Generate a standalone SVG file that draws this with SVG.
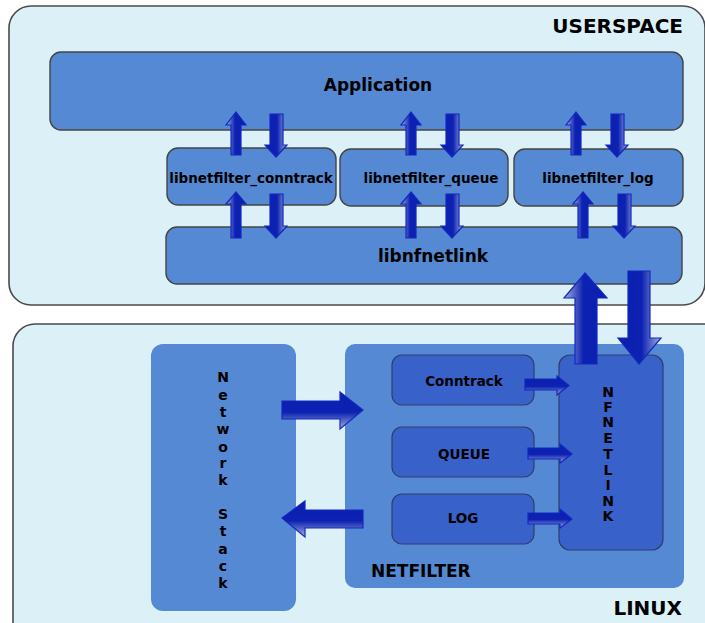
<svg xmlns="http://www.w3.org/2000/svg" width="705" height="623" viewBox="0 0 705 623">
<defs>
<linearGradient id="gL" x1="0" y1="0" x2="1" y2="0"><stop offset="0" stop-color="#a3aedc"/><stop offset="0.45" stop-color="#0d22b2"/><stop offset="1" stop-color="#0a1fae"/></linearGradient>
<linearGradient id="gR" x1="0" y1="0" x2="1" y2="0"><stop offset="0" stop-color="#0a1fae"/><stop offset="0.55" stop-color="#0d22b2"/><stop offset="1" stop-color="#a3aedc"/></linearGradient>
<linearGradient id="gB" x1="0" y1="0" x2="0" y2="1"><stop offset="0" stop-color="#0a1fae"/><stop offset="0.55" stop-color="#0d22b2"/><stop offset="1" stop-color="#a3aedc"/></linearGradient>
</defs>
<style>
.outer{fill:#dcf0f7;stroke:#4a4a4a;stroke-width:1.6}
.mid{fill:#5689d3;stroke:#444;stroke-width:1.4}
.midns{fill:#5689d3}
.dark{fill:#3862c9;stroke:#2c3e70;stroke-width:1.2}
.t{font-family:"DejaVu Sans",sans-serif;font-weight:bold;fill:#000;text-anchor:middle}
.big{font-size:20px;text-anchor:end}
.a{stroke:#1328c0;stroke-width:1.2;stroke-linejoin:miter}
</style>
<g id="userspace">
<rect class="outer" x="9" y="6" width="696" height="299" rx="22"/>
<text class="t big" x="683" y="33">USERSPACE</text>
</g>
<g id="linux">
<rect class="outer" x="13" y="324" width="715" height="320" rx="22"/>
<text class="t big" x="682" y="615">LINUX</text>
</g>
<g id="application">
<rect class="mid" x="50" y="52" width="633" height="78" rx="11"/>
<text class="t" x="378" y="91" font-size="17">Application</text>
</g>
<g id="libnetfilter_conntrack">
<rect class="mid" x="167" y="148" width="169" height="57" rx="11"/>
<text class="t" x="251" y="183" font-size="13.5">libnetfilter_conntrack</text>
</g>
<g id="libnetfilter_queue">
<rect class="mid" x="340" y="149" width="168" height="57" rx="11"/>
<text class="t" x="431" y="183" font-size="13.5">libnetfilter_queue</text>
</g>
<g id="libnetfilter_log">
<rect class="mid" x="514" y="149" width="169" height="57" rx="11"/>
<text class="t" x="598" y="183" font-size="13.5">libnetfilter_log</text>
</g>
<g id="libnfnetlink">
<rect class="mid" x="166" y="227" width="516" height="57" rx="11"/>
<text class="t" x="433" y="262" font-size="17">libnfnetlink</text>
</g>
<g id="network_stack">
<rect class="midns" x="151" y="344" width="145" height="267" rx="12"/>
<g class="t" font-size="14">
<text x="223" y="382">N</text><text x="223" y="400">e</text><text x="223" y="417">t</text><text x="223" y="434">w</text><text x="223" y="452">o</text><text x="223" y="468">r</text><text x="223" y="485">k</text>
<text x="223" y="519">S</text><text x="223" y="536">t</text><text x="223" y="554">a</text><text x="223" y="571">c</text><text x="223" y="588">k</text>
</g>
</g>
<g id="netfilter">
<rect class="midns" x="345" y="344" width="339" height="244" rx="10"/>
<text class="t" x="371" y="577" font-size="17" style="text-anchor:start">NETFILTER</text>
</g>
<g id="conntrack">
<rect class="dark" x="392" y="355" width="142" height="50" rx="10"/>
<text class="t" x="464" y="386" font-size="13.5">Conntrack</text>
</g>
<g id="queue">
<rect class="dark" x="392" y="427" width="142" height="50" rx="10"/>
<text class="t" x="464" y="459" font-size="13.5">QUEUE</text>
</g>
<g id="log">
<rect class="dark" x="392" y="494" width="142" height="50" rx="10"/>
<text class="t" x="463" y="523" font-size="13.5">LOG</text>
</g>
<g id="nfnetlink">
<rect class="dark" x="559" y="355" width="104" height="195" rx="11"/>
<g class="t" font-size="14">
<text x="608" y="397">N</text><text x="608" y="412">F</text><text x="608" y="427">N</text><text x="608" y="443">E</text><text x="608" y="459">T</text><text x="608" y="475">L</text><text x="608" y="490">I</text><text x="608" y="506">N</text><text x="608" y="521">K</text>
</g>
</g>
<g id="connectors">
<polygon class="a" fill="url(#gL)" points="236,112 246,125 241,125 241,155 231,155 231,125 226,125"/>
<polygon class="a" fill="url(#gR)" points="270,114 283,114 283,145 287,145 276,157 265,145 270,145"/>
<polygon class="a" fill="url(#gL)" points="411,112 421,125 416,125 416,155 406,155 406,125 401,125"/>
<polygon class="a" fill="url(#gR)" points="446,114 459,114 459,145 463,145 452,157 441,145 446,145"/>
<polygon class="a" fill="url(#gL)" points="576,112 586,125 581,125 581,155 571,155 571,125 566,125"/>
<polygon class="a" fill="url(#gR)" points="611,114 624,114 624,145 628,145 617,157 606,145 611,145"/>
<polygon class="a" fill="url(#gL)" points="236,192 246,204 241,204 241,238 231,238 231,204 226,204"/>
<polygon class="a" fill="url(#gR)" points="270,194 283,194 283,226 287,226 276,238 265,226 270,226"/>
<polygon class="a" fill="url(#gL)" points="411,192 421,204 416,204 416,238 406,238 406,204 401,204"/>
<polygon class="a" fill="url(#gR)" points="446,194 459,194 459,226 463,226 452,238 441,226 446,226"/>
<polygon class="a" fill="url(#gL)" points="583,192 593,204 588,204 588,238 578,238 578,204 573,204"/>
<polygon class="a" fill="url(#gR)" points="618,194 631,194 631,226 635,226 624,238 613,226 618,226"/>
<polygon class="a" fill="url(#gL)" points="585,273 607,298 597,298 597,364 575,364 575,298 564,298"/>
<polygon class="a" fill="url(#gR)" points="628,271 650,271 650,338 661,338 639,364 618,338 628,338"/>
<polygon class="a" fill="url(#gB)" points="282,401 340,401 340,392 363,410 340,429 340,419 282,419"/>
<polygon class="a" fill="url(#gB)" points="282,518 305,501 305,510 363,510 363,528 305,528 305,537"/>
<polygon class="a" fill="url(#gB)" points="525,379 557,379 557,376 569,385.5 557,395 557,390 525,390"/>
<polygon class="a" fill="url(#gB)" points="528,448 560,448 560,444 572,454 560,463 560,459 528,459"/>
<polygon class="a" fill="url(#gB)" points="528,513 560,513 560,509 572,519 560,528 560,524 528,524"/>
</g>
</svg>
